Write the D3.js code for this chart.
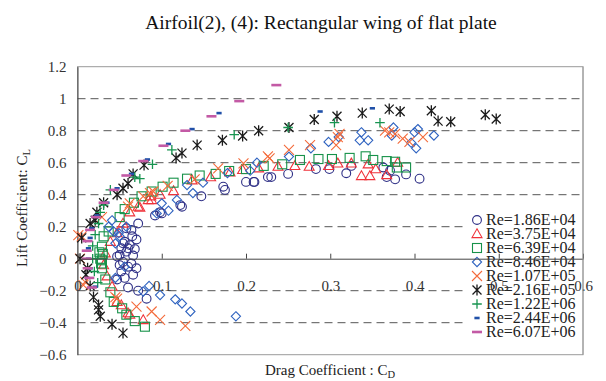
<!DOCTYPE html>
<html>
<head>
<meta charset="utf-8">
<script src="https://cdn.jsdelivr.net/npm/d3@7"></script>
<style>
  html, body { margin: 0; padding: 0; background: #fff; }
  svg { display: block; font-family: "Liberation Serif", "Times New Roman", serif; }
</style>
</head>
<body>
<svg id="chart" width="606" height="381"></svg>
<script>
// Lift vs drag coefficient, rectangular flat-plate wing, one series per Reynolds number.
// Each point is [CD, CL].
const re186e4 = [[0.047,0.013],[0.05,0.023],[0.052,0.065],[0.054,0.096],[0.056,0.106],[0.058,0.044],[0.06,0.065],[0.062,0.085],[0.065,0.14],[0.07,0.12],[0.068,0.06],[0.066,0.02],[0.058,0.19],[0.064,0.18],[0.072,0.22],[0.054,-0.02],[0.06,-0.05],[0.05,-0.04],[0.052,-0.08],[0.064,-0.03],[0.07,-0.06],[0.066,-0.1],[0.056,-0.12],[0.047,-0.13],[0.06,-0.18],[0.072,-0.2],[0.082,-0.25],[0.092,0.27],[0.098,0.29],[0.1,0.283],[0.122,0.335],[0.124,0.325],[0.147,0.39],[0.173,0.45],[0.175,0.43],[0.2,0.48],[0.209,0.48],[0.226,0.51],[0.21,0.48],[0.23,0.51],[0.25,0.53],[0.283,0.56],[0.299,0.56],[0.319,0.534],[0.325,0.58],[0.363,0.57],[0.371,0.55],[0.367,0.51],[0.377,0.496],[0.39,0.527],[0.406,0.50]];
const re375e4 = [[0.031,-0.04],[0.033,0.034],[0.039,0.106],[0.047,0.16],[0.054,0.22],[0.062,0.29],[0.072,0.325],[0.074,0.32],[0.084,0.367],[0.088,0.367],[0.087,0.39],[0.098,0.40],[0.114,0.423],[0.136,0.49],[0.158,0.51],[0.181,0.54],[0.196,0.555],[0.215,0.565],[0.238,0.575],[0.258,0.58],[0.275,0.575],[0.298,0.58],[0.309,0.596],[0.325,0.596],[0.345,0.59],[0.354,0.56],[0.337,0.517],[0.347,0.517],[0.367,0.523],[0.38,0.60],[0.035,-0.11],[0.041,-0.175],[0.047,-0.27],[0.052,-0.29],[0.06,-0.34],[0.062,-0.35],[0.078,-0.383]];
const re639e4 = [[0.027,0.0],[0.029,-0.01],[0.026,0.04],[0.03,0.03],[0.028,-0.03],[0.029,0.075],[0.031,0.14],[0.037,0.17],[0.05,0.26],[0.056,0.31],[0.067,0.35],[0.076,0.39],[0.088,0.42],[0.101,0.45],[0.114,0.475],[0.13,0.50],[0.145,0.52],[0.164,0.53],[0.18,0.548],[0.20,0.56],[0.221,0.58],[0.243,0.59],[0.264,0.617],[0.286,0.623],[0.302,0.623],[0.323,0.63],[0.342,0.64],[0.351,0.617],[0.367,0.61],[0.377,0.606],[0.379,0.57],[0.39,0.57],[0.029,-0.06],[0.033,-0.13],[0.039,-0.21],[0.043,-0.27],[0.053,-0.31],[0.058,-0.35],[0.068,-0.39],[0.08,-0.425]];
const re846e4 = [[0.045,0.096],[0.049,0.16],[0.041,0.24],[0.037,0.2],[0.043,0.17],[0.05,0.14],[0.058,0.2],[0.094,0.283],[0.1,0.346],[0.108,0.30],[0.118,0.367],[0.13,0.46],[0.137,0.41],[0.149,0.475],[0.178,0.535],[0.205,0.55],[0.213,0.60],[0.251,0.638],[0.277,0.69],[0.298,0.73],[0.31,0.76],[0.337,0.79],[0.335,0.74],[0.345,0.74],[0.375,0.82],[0.373,0.77],[0.396,0.725],[0.402,0.69],[0.40,0.79],[0.404,0.81],[0.423,0.77],[0.045,-0.12],[0.056,-0.05],[0.078,-0.205],[0.085,-0.17],[0.098,-0.227],[0.116,-0.254],[0.124,-0.28],[0.134,-0.33],[0.188,-0.36]];
const re107e5 = [[0.003,0.0],[0.001,0.148],[0.005,0.14],[0.029,0.26],[0.06,0.325],[0.062,0.346],[0.078,0.39],[0.086,0.41],[0.09,0.42],[0.107,0.455],[0.139,0.496],[0.167,0.565],[0.197,0.596],[0.226,0.64],[0.228,0.627],[0.251,0.68],[0.276,0.71],[0.307,0.71],[0.309,0.76],[0.311,0.78],[0.365,0.80],[0.37,0.79],[0.377,0.78],[0.386,0.75],[0.394,0.73],[0.41,0.76],[0.009,-0.145],[0.007,-0.165],[0.045,-0.24],[0.047,-0.25],[0.07,-0.30],[0.088,-0.33],[0.098,-0.383],[0.128,-0.42]];
const re216e5 = [[0.003,0.0],[0.005,0.13],[0.015,0.22],[0.021,0.24],[0.023,0.29],[0.031,0.35],[0.047,0.40],[0.054,0.44],[0.06,0.47],[0.066,0.53],[0.079,0.585],[0.117,0.63],[0.124,0.66],[0.142,0.71],[0.172,0.74],[0.196,0.767],[0.215,0.80],[0.251,0.82],[0.281,0.87],[0.308,0.89],[0.338,0.91],[0.37,0.935],[0.383,0.92],[0.42,0.925],[0.428,0.86],[0.443,0.856],[0.484,0.90],[0.497,0.873],[0.012,-0.06],[0.01,-0.1],[0.015,-0.17],[0.019,-0.24],[0.025,-0.29],[0.025,-0.32],[0.027,-0.36],[0.041,-0.41],[0.054,-0.465]];
const re122e6 = [[0.018,0.0],[0.018,0.08],[0.021,0.15],[0.025,0.22],[0.027,0.29],[0.031,0.335],[0.039,0.43],[0.068,0.51],[0.074,0.50],[0.089,0.59],[0.112,0.68],[0.186,0.775],[0.25,0.82],[0.305,0.85],[0.359,0.85],[0.02,-0.08],[0.024,-0.15]];
const re244e6 = [[0.013,0.065],[0.015,0.13],[0.017,0.19],[0.023,0.27],[0.035,0.35],[0.047,0.44],[0.064,0.53],[0.083,0.62],[0.108,0.717],[0.136,0.81],[0.168,0.91],[0.288,0.92],[0.35,0.94],[0.013,0.0],[0.015,-0.06],[0.021,-0.175]];
const re607e6 = [[0.011,0.0],[0.011,0.05],[0.012,0.11],[0.015,0.18],[0.022,0.26],[0.031,0.35],[0.043,0.43],[0.058,0.52],[0.078,0.61],[0.102,0.706],[0.128,0.80],[0.159,0.89],[0.192,0.985],[0.236,1.085],[0.012,-0.06],[0.014,-0.12],[0.017,-0.18]];

const seriesLabels = ["Re=1.86E+04","Re=3.75E+04","Re=6.39E+04","Re=8.46E+04","Re=1.07E+05","Re=2.16E+05","Re=1.22E+06","Re=2.44E+06","Re=6.07E+06"];
const seriesData = [re186e4, re375e4, re639e4, re846e4, re107e5, re216e5, re122e6, re244e6, re607e6];
const xTicks = [0, 0.1, 0.2, 0.3, 0.4, 0.5, 0.6];
const yTicks = [-0.6, -0.4, -0.2, 0, 0.2, 0.4, 0.6, 0.8, 1, 1.2];
const gridValues = [-0.4, -0.2, 0.2, 0.4, 0.6, 0.8, 1];

const titleText = "Airfoil(2), (4): Rectangular wing of flat plate";

// marker styles per series
const styles = [
  { shape: "circle",   color: "#2e2f86" },
  { shape: "triangle", color: "#f0323a" },
  { shape: "square",   color: "#17924a" },
  { shape: "diamond",  color: "#2f63c0" },
  { shape: "cross",    color: "#f46a3a" },
  { shape: "star",     color: "#1a1a1a" },
  { shape: "plus",     color: "#179450" },
  { shape: "dash",     color: "#2050a8" },
  { shape: "longdash", color: "#c35aa5" }
];

const svg = d3.select("#chart");
const plotLeft = 77.5, plotRight = 583, plotTop = 66.7, plotBottom = 354.7;

const x = d3.scaleLinear().domain([0, 0.6]).range([plotLeft, plotRight]);
const y = d3.scaleLinear().domain([-0.6, 1.2]).range([plotBottom, plotTop]);

// title
svg.append("text")
  .attr("x", 321).attr("y", 29)
  .attr("text-anchor", "middle")
  .attr("font-size", 19.5)
  .attr("fill", "#111")
  .text(titleText);

// plot frame
svg.append("rect")
  .attr("x", plotLeft).attr("y", plotTop)
  .attr("width", plotRight - plotLeft).attr("height", plotBottom - plotTop)
  .attr("fill", "none").attr("stroke", "#9a9a9a").attr("stroke-width", 1);

// dashed gridlines
svg.append("g").selectAll("line").data(gridValues).join("line")
  .attr("x1", plotLeft).attr("x2", plotRight)
  .attr("y1", d => y(d)).attr("y2", d => y(d))
  .attr("stroke", "#555").attr("stroke-width", 1)
  .attr("stroke-dasharray", "8,5");

// y axis (left)
const yAxis = d3.axisLeft(y).tickValues(yTicks).tickSize(0).tickPadding(11)
  .tickFormat(d3.format("~g"));
const gy = svg.append("g").attr("transform", `translate(${plotLeft},0)`).call(yAxis);
gy.select(".domain").attr("stroke", "#444");
gy.selectAll("text").attr("font-size", 15).attr("fill", "#333")
  .attr("font-family", "Liberation Serif, Times New Roman, serif");

// data markers
function drawMarker(g, shape, color) {
  const sw = 1.1;
  switch (shape) {
    case "circle":
      g.append("circle").attr("r", 4.4).attr("fill", "none").attr("stroke", color).attr("stroke-width", sw); break;
    case "triangle":
      g.append("path").attr("d", "M0,-5.2L5,3.6L-5,3.6Z").attr("fill", "none").attr("stroke", color).attr("stroke-width", sw); break;
    case "square":
      g.append("rect").attr("x", -4.5).attr("y", -4.5).attr("width", 9).attr("height", 9).attr("fill", "none").attr("stroke", color).attr("stroke-width", sw); break;
    case "diamond":
      g.append("path").attr("d", "M0,-4.6L4.6,0L0,4.6L-4.6,0Z").attr("fill", "none").attr("stroke", color).attr("stroke-width", sw); break;
    case "cross":
      g.append("path").attr("d", "M-5,-5L5,5M-5,5L5,-5").attr("stroke", color).attr("stroke-width", sw); break;
    case "star":
      g.append("path").attr("d", "M-4.5,-4.5L4.5,4.5M-4.5,4.5L4.5,-4.5M0,-5.5L0,5.5").attr("stroke", color).attr("stroke-width", 1.3); break;
    case "plus":
      g.append("path").attr("d", "M-4.8,0L4.8,0M0,-4.8L0,4.8").attr("stroke", color).attr("stroke-width", 1.3); break;
    case "dash":
      g.append("rect").attr("x", -2.6).attr("y", -1.3).attr("width", 5.2).attr("height", 2.6).attr("fill", color); break;
    case "longdash":
      g.append("rect").attr("x", -5).attr("y", -1.3).attr("width", 10).attr("height", 2.6).attr("fill", color); break;
  }
}

const plot = svg.append("g");
seriesData.forEach((pts, i) => {
  const sg = plot.append("g");
  pts.forEach(p => {
    const m = sg.append("g").attr("transform", `translate(${x(p[0])},${y(p[1])})`);
    drawMarker(m, styles[i].shape, styles[i].color);
  });
});

// legend (white panel over the plot area)
const legX = 465, legY = 211, rowH = 14;
const leg = svg.append("g");
leg.append("rect").attr("x", legX).attr("y", legY).attr("width", 116).attr("height", 129).attr("fill", "#fff");
seriesLabels.forEach((lab, i) => {
  const cy = legY + 9 + i * rowH;
  const m = leg.append("g").attr("transform", `translate(${477},${cy})`);
  drawMarker(m, styles[i].shape, styles[i].color);
  leg.append("text").attr("x", 486).attr("y", cy + 5.2)
    .attr("font-size", 16).attr("fill", "#222").text(lab);
});

// x axis along CL = 0, ticks pointing up
const xAxis = d3.axisBottom(x).tickValues(xTicks).tickSizeInner(-5).tickSizeOuter(0).tickPadding(22)
  .tickFormat(d3.format("~g"));
const gx = svg.append("g").attr("transform", `translate(0,${y(0)})`).call(xAxis);
gx.select(".domain").attr("stroke", "#444");
gx.selectAll(".tick line").attr("stroke", "#444");
gx.selectAll("text").attr("font-size", 15).attr("fill", "#333")
  .attr("font-family", "Liberation Serif, Times New Roman, serif");

// right frame edge stays on top
svg.append("line").attr("x1", plotRight).attr("x2", plotRight).attr("y1", plotTop).attr("y2", plotBottom)
  .attr("stroke", "#9a9a9a");

// axis titles
const yt = svg.append("text")
  .attr("transform", "translate(27,208) rotate(-90)")
  .attr("text-anchor", "middle").attr("font-size", 15).attr("fill", "#222");
yt.append("tspan").text("Lift Coefficient: C");
yt.append("tspan").attr("font-size", 10.5).attr("dy", 3).text("L");

const xt = svg.append("text")
  .attr("x", 330).attr("y", 375)
  .attr("text-anchor", "middle").attr("font-size", 15).attr("fill", "#222");
xt.append("tspan").text("Drag Coefficient : C");
xt.append("tspan").attr("font-size", 10.5).attr("dy", 3).text("D");
</script>
</body>
</html>
